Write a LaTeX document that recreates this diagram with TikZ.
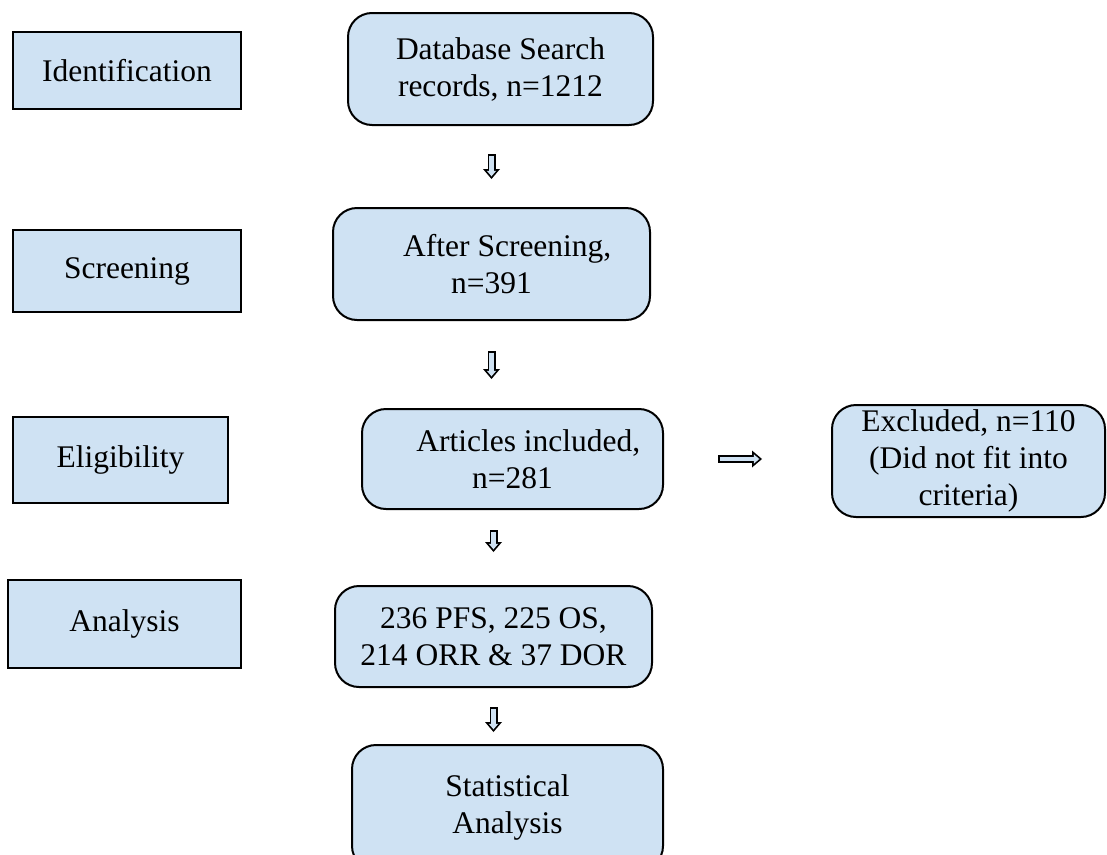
\documentclass[tikz,border=0pt]{standalone}
\usepackage{fontspec}
\setmainfont{Liberation Serif}
\usetikzlibrary{arrows.meta}
\definecolor{boxblue}{HTML}{CFE2F3}

\begin{document}
\begin{tikzpicture}[x=1pt, y=-1pt,
    stage/.style={draw, line width=2pt, fill=boxblue, inner sep=0pt, align=center,
      font=\fontsize{31.5}{37}\selectfont},
    flow/.style={stage, rounded corners=24pt},
    hollow/.style 2 args={draw=boxblue, line width=4.5pt,
      -{Triangle[length=5.5pt, width=9.4pt, line width=0pt]},
      shorten <=#1+1.75pt, shorten >=#2+2.7pt,
      preaction={draw=black, line width=8pt,
        -{Triangle[length=10pt, width=17pt, line width=0pt]},
        shorten <=#1, shorten >=#2}}]
  \useasboundingbox (0,0) rectangle (1107,854);

  \node[stage, minimum width=228pt, minimum height=77pt] (idf) at (127,70.5) {Identification};
  \node[stage, minimum width=228pt, minimum height=82pt] (scrl) at (127,271) {Screening};
  \node[stage, minimum width=215pt, minimum height=86pt] (elig) at (120.5,460) {Eligibility};
  \node[stage, minimum width=233pt, minimum height=88pt] (ana) at (124.5,624) {Analysis};

  \node[flow, minimum width=305pt, minimum height=112pt] (db) at (500.5,69) {Database Search\\records, n=1212};
  \node[flow, minimum width=317pt, minimum height=112pt] (scr) at (491.5,264) {\quad After Screening,\\n=391};
  \node[flow, minimum width=301pt, minimum height=100pt] (art) at (512.5,459) {\quad Articles included,\\n=281};
  \node[flow, minimum width=317pt, minimum height=101pt] (pfs) at (493.5,636.5) {236 PFS, 225 OS,\\214 ORR \& 37 DOR};
  \node[flow, minimum width=311pt, minimum height=125pt] (stat) at (507.5,807.5) {Statistical\\Analysis};
  \node[flow, minimum width=273pt, minimum height=112pt] (exc) at (968.5,461) {Excluded, n=110\\(Did not fit into\\criteria)};

  \draw[hollow={28pt}{28pt}] (db.south -| scr.north) -- (scr.north);
  \draw[hollow={30pt}{29pt}] (scr.south) -- (scr.south |- art.north);
  \draw[hollow={20pt}{33pt}] (art.south -| pfs.north) -- (pfs.north);
  \draw[hollow={19pt}{12pt}] (pfs.south) -- (pfs.south |- stat.north);
  \draw[hollow={54pt}{69pt}] (art.east) -- (art.east -| exc.west);
\end{tikzpicture}
\end{document}
